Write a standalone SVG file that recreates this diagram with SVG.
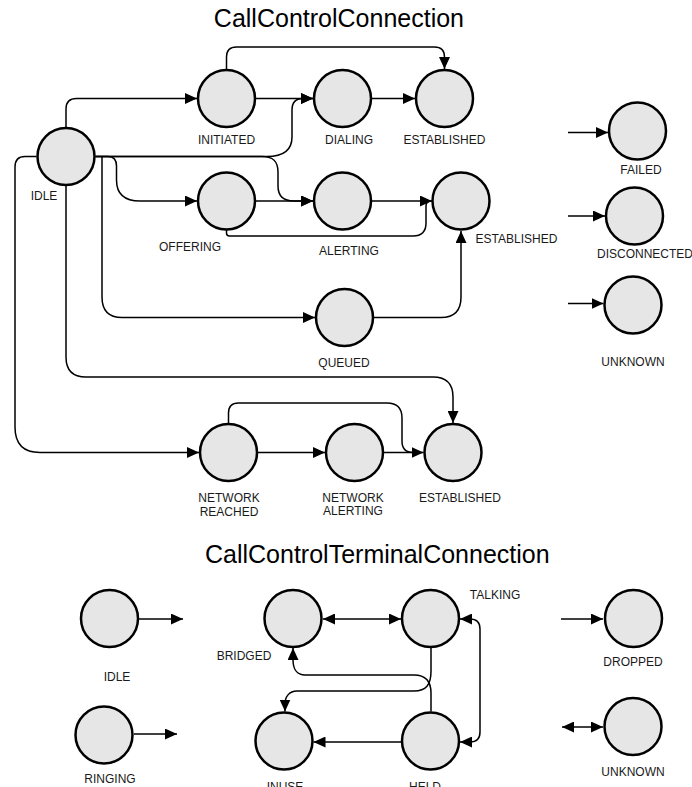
<svg xmlns="http://www.w3.org/2000/svg" width="692" height="787" viewBox="0 0 692 787">
  <defs>
    <marker id="arrow" markerUnits="userSpaceOnUse" markerWidth="12" markerHeight="11" refX="12" refY="5.5" orient="auto-start-reverse">
      <path d="M0,0 L12,5.5 L0,11 z" fill="#000"/>
    </marker>
    <style>
      .state { fill: #e6e6e6; stroke: #000; stroke-width: 2.5; }
      .lbl { font-family: "Liberation Sans", Arial, sans-serif; font-size: 12px; fill: #1a1a1a; text-anchor: middle; }
      .title { font-family: "Liberation Sans", Arial, sans-serif; font-size: 25px; fill: #000; }
      .edge { fill: none; stroke: #000; stroke-width: 1.5; }
      .arr { marker-end: url(#arrow); }
      .both { marker-start: url(#arrow); marker-end: url(#arrow); }
    </style>
  </defs>
  <rect width="692" height="787" fill="#fff"/>

  <text class="title" x="464" y="27" text-anchor="end">CallControlConnection</text>
  <text class="title" x="205" y="563" text-anchor="start">CallControlTerminalConnection</text>

  <!-- connectors -->
  <g id="connectors">
    <!-- call connection -->
    <path class="edge arr" d="M66,127 V109 Q66,98.5 76.5,98.5 H197"/>
    <path class="edge arr" d="M226.5,69 V57 Q226.5,47 236.5,47 H434.5 Q444.5,47 444.5,57 V69"/>
    <path class="edge arr" d="M256,98.5 H313"/>
    <path class="edge arr" d="M372,98.5 H415"/>
    <path class="edge arr" d="M95.5,156.5 H267 C284,156.5 292,150 292,137 V110 C292,102 296,98.5 303,98.5 H313"/>
    <path class="edge arr" d="M95.5,156.5 H262 C274,156.5 278,162 278,172 V186 C278,196 284,201 294,201 H313"/>
    <path class="edge arr" d="M95.5,156.5 H108 Q116.5,156.5 116.5,166 V180 Q116.5,201 140,201 H197"/>
    <path class="edge arr" d="M102,156.5 V297 Q102,317.5 122,317.5 H315"/>
    <path class="edge arr" d="M66,186 V357 Q66,377 86,377 H433 Q453,377 453,397 V423"/>
    <path class="edge arr" d="M36.5,156.5 H25 Q15,156.5 15,167 V427 Q15,452.5 40,452.5 H199"/>
    <path class="edge arr" d="M256,201 H313"/>
    <path class="edge arr" d="M372,201 H432"/>
    <path class="edge" d="M226.5,230 V233 Q226.5,236 229.5,236 H413 Q426,236 426,223 V206 Q426,201 431,201"/>
    <path class="edge arr" d="M374,317.5 H441 Q461,317.5 461,297 V231"/>
    <path class="edge arr" d="M258,452.5 H325"/>
    <path class="edge arr" d="M384,452.5 H423.5"/>
    <path class="edge" d="M228.5,423 V413 Q228.5,403 238.5,403 H387 Q402,403 402,418 V441 Q402,452.5 413,452.5 H420"/>
    <path class="edge arr" d="M568,132.5 H608"/>
    <path class="edge arr" d="M568,216 H605"/>
    <path class="edge arr" d="M568,303.5 H603.5"/>

    <!-- terminal connection -->
    <path class="edge arr" d="M139,619 H183"/>
    <path class="edge arr" d="M134,734 H177"/>
    <path class="edge both" d="M323,619 H401"/>
    <path class="edge both" d="M460,619 H470 Q480,619 480,629 V732 Q480,742 470,742 H460"/>
    <path class="edge arr" d="M401,742 H313.5"/>
    <path class="edge arr" d="M431,648 V671 C431,685 426,691 414,691 H297 C289,691 285,697 285,704 V711.5"/>
    <path class="edge arr" d="M431,711.5 V693 C431,680 425,675 414,675 H305 C297,675 293,669 293,660 V648"/>
    <path class="edge arr" d="M561,619 H603"/>
    <path class="edge both" d="M562,727 H603"/>
  </g>

  <!-- call connection states -->
  <g id="cc-idle"><circle class="state" cx="66" cy="156.5" r="28.5"/><text class="lbl" x="44" y="199.5">IDLE</text></g>
  <g id="cc-initiated"><circle class="state" cx="226.5" cy="98.5" r="28.5"/><text class="lbl" x="226.5" y="144">INITIATED</text></g>
  <g id="cc-dialing"><circle class="state" cx="342.5" cy="98.5" r="28.5"/><text class="lbl" x="349" y="144">DIALING</text></g>
  <g id="cc-established-1"><circle class="state" cx="444.5" cy="98.5" r="28.5"/><text class="lbl" x="444.5" y="144">ESTABLISHED</text></g>
  <g id="cc-offering"><circle class="state" cx="226.5" cy="201" r="28.5"/><text class="lbl" x="190" y="251">OFFERING</text></g>
  <g id="cc-alerting"><circle class="state" cx="342.5" cy="201" r="28.5"/><text class="lbl" x="349" y="255">ALERTING</text></g>
  <g id="cc-established-2"><circle class="state" cx="461" cy="201" r="28.5"/><text class="lbl" x="516.5" y="242.5">ESTABLISHED</text></g>
  <g id="cc-queued"><circle class="state" cx="344.5" cy="317.5" r="28.5"/><text class="lbl" x="344" y="367">QUEUED</text></g>
  <g id="cc-network-reached"><circle class="state" cx="228.5" cy="452.5" r="28.5"/><text class="lbl" x="229" y="501.5">NETWORK</text><text class="lbl" x="229" y="515.5">REACHED</text></g>
  <g id="cc-network-alerting"><circle class="state" cx="354.5" cy="452.5" r="28.5"/><text class="lbl" x="353" y="501.5">NETWORK</text><text class="lbl" x="353" y="515">ALERTING</text></g>
  <g id="cc-established-3"><circle class="state" cx="453" cy="452.5" r="28.5"/><text class="lbl" x="460" y="501.5">ESTABLISHED</text></g>
  <g id="cc-failed"><circle class="state" cx="637.5" cy="131" r="28.5"/><text class="lbl" x="641" y="174">FAILED</text></g>
  <g id="cc-disconnected"><circle class="state" cx="634.5" cy="216" r="28.5"/><text class="lbl" x="597" y="257.5" style="text-anchor:start">DISCONNECTED</text></g>
  <g id="cc-unknown"><circle class="state" cx="633" cy="305" r="28.5"/><text class="lbl" x="633" y="366">UNKNOWN</text></g>

  <!-- terminal connection states -->
  <g id="tc-idle"><circle class="state" cx="109.5" cy="618.5" r="28.5"/><text class="lbl" x="117" y="681">IDLE</text></g>
  <g id="tc-ringing"><circle class="state" cx="104" cy="735" r="28.5"/><text class="lbl" x="110" y="783">RINGING</text></g>
  <g id="tc-bridged"><circle class="state" cx="293" cy="618.5" r="28.5"/><text class="lbl" x="244" y="660">BRIDGED</text></g>
  <g id="tc-talking"><circle class="state" cx="430.5" cy="618.5" r="28.5"/><text class="lbl" x="495" y="599">TALKING</text></g>
  <g id="tc-inuse"><circle class="state" cx="284" cy="741" r="28.5"/><text class="lbl" x="285" y="791">INUSE</text></g>
  <g id="tc-held"><circle class="state" cx="430.5" cy="741" r="28.5"/><text class="lbl" x="425" y="791">HELD</text></g>
  <g id="tc-dropped"><circle class="state" cx="633.5" cy="618.5" r="28.5"/><text class="lbl" x="633" y="666">DROPPED</text></g>
  <g id="tc-unknown"><circle class="state" cx="633" cy="726.5" r="28.5"/><text class="lbl" x="633" y="776">UNKNOWN</text></g>
</svg>
